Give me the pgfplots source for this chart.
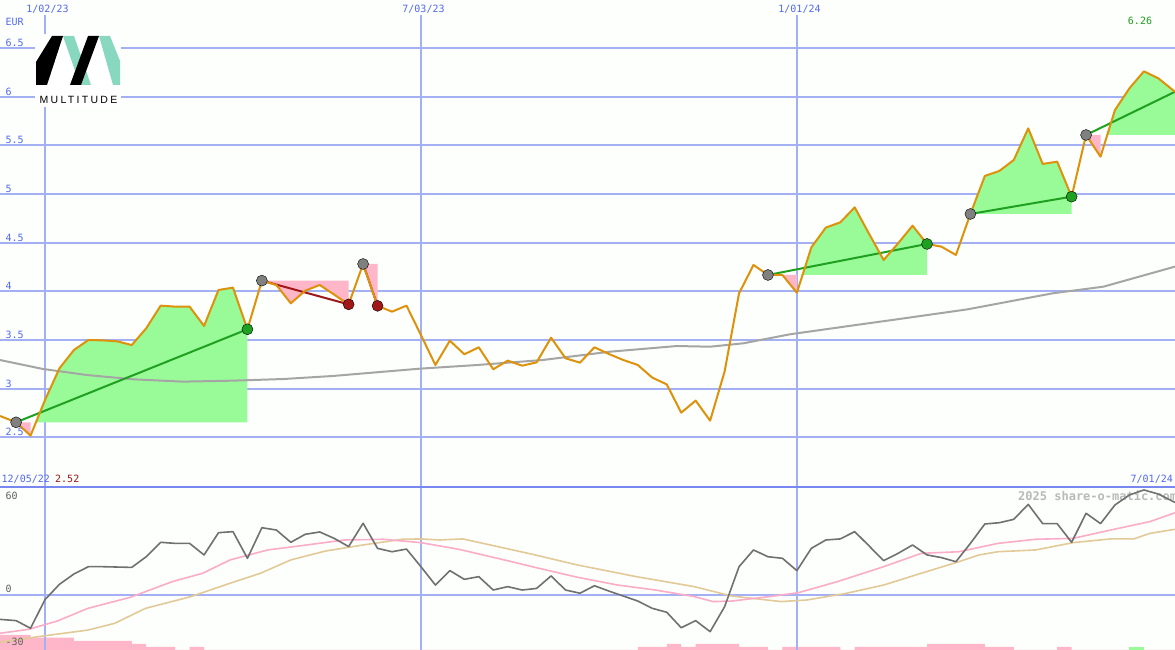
\documentclass[border=0pt]{standalone}
\usepackage{fontspec}
\setmainfont{Liberation Sans}
\newfontfamily\mono{DejaVu Sans Mono}
\newfontfamily\logofont[LetterSpace=22]{Liberation Sans}
\usepackage{pgfplots}
\pgfplotsset{compat=1.18}
\usepackage{pgfplotstable}

\definecolor{bgc}{RGB}{252,255,252}
\definecolor{gridblue}{RGB}{164,176,244}
\definecolor{sepblue}{RGB}{120,136,240}
\definecolor{labblue}{RGB}{84,104,240}
\definecolor{priceor}{RGB}{222,145,10}
\definecolor{magray}{RGB}{165,165,165}
\definecolor{pgreen}{RGB}{152,251,152}
\definecolor{ppink}{RGB}{255,182,200}
\definecolor{tgreen}{RGB}{32,160,32}
\definecolor{tred}{RGB}{160,24,24}
\definecolor{dgray}{RGB}{128,128,128}
\definecolor{oscgray}{RGB}{112,112,112}
\definecolor{oscpink}{RGB}{250,172,200}
\definecolor{osctan}{RGB}{226,202,152}
\definecolor{wmgray}{RGB}{185,185,185}
\definecolor{mint}{RGB}{136,216,192}
\definecolor{labgray}{RGB}{96,96,96}

\pgfplotstableread{
k p
-3.11 2.718
-2 2.653
-1 2.516
0 2.882
1 3.208
2 3.396
3 3.499
4 3.495
5 3.485
6 3.447
7 3.619
8 3.852
9 3.842
10 3.842
11 3.643
12 4.013
13 4.037
14 3.609
15 4.109
16 4.064
17 3.876
18 4.006
19 4.064
20 3.965
21 3.865
22 4.28
23 3.85
24 3.79
25 3.852
26 3.55
27 3.242
28 3.492
29 3.352
30 3.424
31 3.198
32 3.287
33 3.235
34 3.269
35 3.523
36 3.311
37 3.266
38 3.424
39 3.355
40 3.293
41 3.242
42 3.112
43 3.043
44 2.752
45 2.876
46 2.67
47 3.174
48 3.979
49 4.27
50 4.167
51 4.167
52 3.985
53 4.451
54 4.654
55 4.708
56 4.862
57 4.588
58 4.321
59 4.492
60 4.674
61 4.486
62 4.458
63 4.373
64 4.794
65 5.185
66 5.236
67 5.349
68 5.674
69 5.308
70 5.332
71 4.972
72 5.606
73 5.383
74 5.863
75 6.086
76 6.26
77 6.188
78.15 6.05
}\tprice

\pgfplotstableread{
k p
-3.11 3.293
-0.14 3.201
2.9 3.139
6.09 3.095
9.54 3.071
13.0 3.081
16.5 3.098
19.9 3.129
25.9 3.204
29.9 3.242
34.4 3.293
39.1 3.379
43.7 3.437
46.0 3.43
48.3 3.465
51.5 3.557
55.7 3.645
59.1 3.715
63.8 3.814
69.7 3.979
73.2 4.047
78.15 4.253
}\tma

\pgfplotstableread{
k v
-3.11 -13.7
-2 -14.4
-1 -18.7
0 -2.6
1 6.0
2 11.8
3 15.9
4 15.9
5 15.7
6 15.5
7 21.5
8 29.6
9 29.0
10 29.0
11 22.5
12 35.0
13 35.6
14 20.6
15 37.8
16 36.5
17 29.6
18 34.1
19 35.4
20 31.8
21 27.2
22 40.3
23 26.2
24 24.3
25 25.8
26 15.9
27 5.6
28 13.7
29 8.8
30 10.3
31 2.8
32 4.7
33 2.8
34 3.7
35 10.7
36 2.8
37 1.0
38 5.2
39 2.2
40 -0.6
41 -3.4
42 -7.5
43 -9.7
44 -18.4
45 -14.4
46 -20.6
47 -6.6
48 15.9
49 25.3
50 21.5
51 20.6
52 13.7
53 26.2
54 30.9
55 31.5
56 35.6
57 27.5
58 19.3
59 23.4
60 28.1
61 22.5
62 21.0
63 18.7
64 29.0
65 39.9
66 40.6
67 42.5
68 50.9
69 40.1
70 40.1
71 29.6
72 45.9
73 40.1
74 50.6
75 56.2
76 59.0
77 56.7
78.15 52.0
}\tgray

\pgfplotstableread{
k v
-3.11 -21.5
-1.13 -19.3
0.86 -14.6
2.97 -7.5
5.9 -1.3
8.8 7.5
10.9 12.2
12.8 19.7
15.4 25.3
18.1 28.1
20.7 30.9
23.4 31.3
26 29.4
28.6 25.7
31.3 20.6
33.9 15.5
36.8 10.0
39.6 5.6
42.2 2.8
44.9 -0.9
46.2 -3.7
47.5 -3.4
50.1 -0.9
52.1 1.3
54.8 7.5
58.0 15.9
60.6 23.4
63.2 24.3
65.9 29.0
68.5 31.3
71.1 31.8
73.7 36.5
76.4 41.2
78.15 46.2
}\tpink

\pgfplotstableread{
k v
-3.11 -26.5
-0.46 -23.4
2.97 -19.7
4.83 -15.9
6.95 -7.5
10.1 -0.9
12.8 6.6
14.9 12.2
17.0 19.7
19.4 24.7
22.0 28.1
24.7 31.3
26 31.5
27.3 30.9
28.9 31.5
31.3 27.2
33.9 22.5
36.8 16.9
40.9 10.3
44.9 4.7
47.5 -0.6
50.9 -3.7
52.7 -2.8
55.4 0.9
58.0 5.6
60.6 12.2
63.2 18.7
64.6 22.5
65.9 24.3
68.5 25.3
71.1 29.4
73.7 31.5
75.3 31.5
76.4 34.6
78.15 36.9
}\ttan

\pgfplotsset{base/.style={scale only axis, width=1175pt, xmin=-3.112, xmax=78.15,
  axis line style={draw=none}, major tick length=0pt, xtick=\empty, ytick=\empty,
  enlargelimits=false, clip=true}}
\tikzset{gl/.style={gridblue, line width=2pt}}

\begin{document}
\begin{tikzpicture}
\fill[bgc] (0,0) rectangle (1175pt,650pt);
\begin{scope}[shift={(0,650pt)}, x=1pt, y=-1pt]
  \node[anchor=west, inner sep=0, font=\mono\bfseries\fontsize{12}{12}\selectfont, text=wmgray] at (1018,496) {2025 share-o-matic.com};
\end{scope}

% ---------- bars (bottom strip) ----------
\begin{axis}[base, at={(0,0)}, anchor=south west, height=163pt, ymin=0, ymax=163]
\addplot[ybar interval, fill=ppink, draw=none] coordinates {
(-3.2,15) (-1,12.3) (2,9) (6,6) (7,3) (9,0) (10,3) (11,0) (41,3) (43,6) (44,3) (45,6) (48,3) (50,0) (51,3) (55,0) (56,3) (61,6) (65,3) (67,0) (70,3) (71,0) (78.2,0)};
\addplot[ybar interval, fill=pgreen, draw=none] coordinates {(75,3) (76,0)};
\end{axis}

% ---------- oscillator ----------
\begin{axis}[base, at={(0,0)}, anchor=south west, height=163pt, ymin=-30.9, ymax=60.67]
\draw[gl] (axis cs:-5,0) -- (axis cs:80,0);
\draw[gl] (axis cs:0,-40) -- (axis cs:0,70);
\draw[gl] (axis cs:26,-40) -- (axis cs:26,70);
\draw[gl] (axis cs:52,-40) -- (axis cs:52,70);
\addplot[osctan, line width=1.6pt] table[x=k,y=v] {\ttan};
\addplot[oscpink, line width=1.6pt] table[x=k,y=v] {\tpink};
\addplot[oscgray, line width=1.6pt, line join=round] table[x=k,y=v] {\tgray};
\end{axis}

% ---------- price ----------
\begin{axis}[base, at={(0,163pt)}, anchor=south west, height=487pt, ymin=1.9882, ymax=6.9933]
\draw[gl] (axis cs:-5,2.5) -- (axis cs:80,2.5);
\draw[gl] (axis cs:-5,3) -- (axis cs:80,3);
\draw[gl] (axis cs:-5,3.5) -- (axis cs:80,3.5);
\draw[gl] (axis cs:-5,4) -- (axis cs:80,4);
\draw[gl] (axis cs:-5,4.5) -- (axis cs:80,4.5);
\draw[gl] (axis cs:-5,5) -- (axis cs:80,5);
\draw[gl] (axis cs:-5,5.5) -- (axis cs:80,5.5);
\draw[gl] (axis cs:-5,6) -- (axis cs:80,6);
\draw[gl] (axis cs:-5,6.5) -- (axis cs:80,6.5);
\draw[gl] (axis cs:0,6.839) -- (axis cs:0,1.9);
\draw[gl] (axis cs:26,6.839) -- (axis cs:26,1.9);
\draw[gl] (axis cs:52,6.839) -- (axis cs:52,1.9);
% trade fills
\addplot[fill=ppink, draw=none] coordinates {(-2,2.653) (-1,2.516) (-1,2.653)} -- cycle;
\addplot[fill=pgreen, draw=none] coordinates {(-0.626,2.653) (0,2.882) (1,3.208) (2,3.396) (3,3.499) (4,3.495) (5,3.485) (6,3.447) (7,3.619) (8,3.852) (9,3.842) (10,3.842) (11,3.643) (12,4.013) (13,4.037) (14,3.609) (14,2.653)} -- cycle;
\addplot[fill=ppink, draw=none] coordinates {(15,4.109) (16,4.064) (17,3.876) (18,4.006) (19,4.064) (20,3.965) (21,3.865) (21,4.109)} -- cycle;
\addplot[fill=ppink, draw=none] coordinates {(22,4.28) (23,3.85) (23,4.28)} -- cycle;
\addplot[fill=ppink, draw=none] coordinates {(51,4.167) (52,3.985) (52,4.167)} -- cycle;
\addplot[fill=pgreen, draw=none] coordinates {(52.39,4.167) (53,4.451) (54,4.654) (55,4.708) (56,4.862) (57,4.588) (58,4.321) (59,4.492) (60,4.674) (61,4.486) (61,4.167)} -- cycle;
\addplot[fill=pgreen, draw=none] coordinates {(64,4.794) (65,5.185) (66,5.236) (67,5.349) (68,5.674) (69,5.308) (70,5.332) (71,4.972) (71,4.794)} -- cycle;
\addplot[fill=ppink, draw=none] coordinates {(72,5.606) (73,5.383) (73,5.606)} -- cycle;
\addplot[fill=pgreen, draw=none] coordinates {(73.46,5.606) (74,5.863) (75,6.086) (76,6.26) (77,6.188) (78.15,6.05) (78.15,5.606)} -- cycle;
% moving average
\addplot[magray, line width=2pt] table[x=k,y=p] {\tma};
% trade lines
\addplot[tgreen, line width=2pt] coordinates {(-2,2.653) (14,3.609)};
\addplot[tred, line width=2pt] coordinates {(15,4.109) (21,3.865)};
\addplot[tred, line width=2pt] coordinates {(22,4.28) (23,3.85)};
\addplot[tgreen, line width=2pt] coordinates {(50,4.167) (61,4.486)};
\addplot[tgreen, line width=2pt] coordinates {(64,4.794) (71,4.972)};
\addplot[tgreen, line width=2pt] coordinates {(72,5.606) (78.15,6.05)};
% dots
\addplot[only marks, mark=*, mark size=5.5pt, mark options={fill=dgray, draw=none}] coordinates {(-2,2.653) (15,4.109) (22,4.28) (50,4.167) (64,4.794) (72,5.606)};
\addplot[only marks, mark=*, mark size=5.5pt, mark options={fill=tgreen, draw=none}] coordinates {(14,3.609) (61,4.486) (71,4.972)};
\addplot[only marks, mark=*, mark size=5.5pt, mark options={fill=tred, draw=none}] coordinates {(21,3.865) (23,3.85)};
% price
\addplot[priceor, line width=2pt, line join=round] table[x=k,y=p] {\tprice};
\end{axis}

% ---------- labels, separator, logo ----------
\begin{scope}[shift={(0,650pt)}, x=1pt, y=-1pt]
  \draw[sepblue, line width=2pt] (0,487) -- (1175,487);
  \tikzset{lab/.style={inner sep=0, font=\mono\fontsize{10}{12}\selectfont}}
  \node[lab, text=labblue, anchor=west] at (5.5,21.5) {EUR};
  \node[lab, text=labblue] at (47.5,9) {1/02/23};
  \node[lab, text=labblue] at (423.5,9) {7/03/23};
  \node[lab, text=labblue] at (799.5,9) {1/01/24};
  \node[lab, text=tgreen] at (1140,21) {6.26};
  \node[lab, text=labblue, anchor=west] at (5.5,43) {6.5};
  \node[lab, text=labblue, anchor=west] at (5.5,91.5) {6};
  \node[lab, text=labblue, anchor=west] at (5.5,140) {5.5};
  \node[lab, text=labblue, anchor=west] at (5.5,189) {5};
  \node[lab, text=labblue, anchor=west] at (5.5,237.5) {4.5};
  \node[lab, text=labblue, anchor=west] at (5.5,286) {4};
  \node[lab, text=labblue, anchor=west] at (5.5,334.5) {3.5};
  \node[lab, text=labblue, anchor=west] at (5.5,383.5) {3};
  \node[lab, text=labblue, anchor=west] at (5.5,432) {2.5};
  \node[lab, text=labblue, anchor=west] at (1.5,479) {12/05/22};
  \node[lab, text=tred, anchor=west] at (55,479) {2.52};
  \node[lab, text=labblue, anchor=east] at (1173,479) {7/01/24};
  \node[lab, text=labgray, anchor=west] at (5.5,496) {60};
  \node[lab, text=labgray, anchor=west] at (5.5,589) {0};
  \node[lab, text=labgray, anchor=west] at (5.5,642) {-30};
  % logo
  \fill[white] (35,34) rectangle (121,107);
  \fill[mint] (63,36) -- (74,36) -- (91,85) -- (80,85) -- cycle;
  \fill[mint] (99,36) -- (110,36) -- (120,61) -- (120,85) -- (113,85) -- cycle;
  \fill[black] (36,85) -- (36,62) -- (52,36) -- (63,36) -- (47,85) -- cycle;
  \fill[black] (70,85) -- (81,85) -- (99,36) -- (88,36) -- cycle;
  \node[inner sep=0, font=\logofont\fontsize{10.5}{12}\selectfont] at (78.5,99.5) {MULTITUDE};
\end{scope}
\pgfresetboundingbox
\useasboundingbox (0,0) rectangle (1175pt,650pt);
\end{tikzpicture}
\end{document}
